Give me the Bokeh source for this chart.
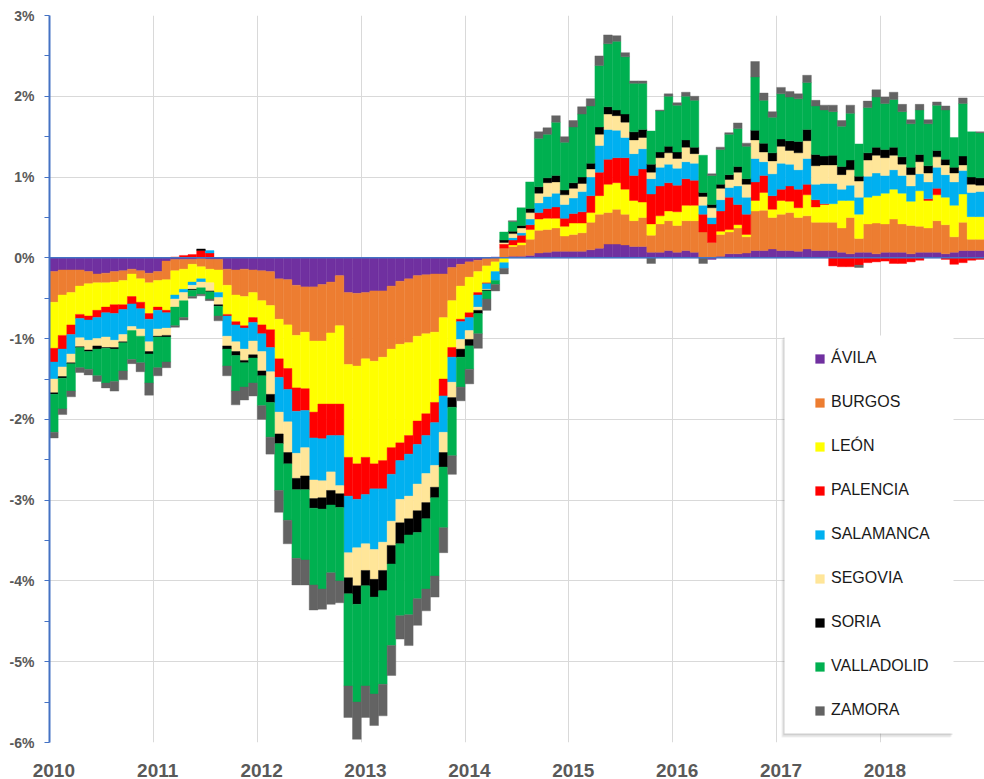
import numpy as np
from bokeh.plotting import figure
from bokeh.models import (ColumnDataSource, FixedTicker, PrintfTickFormatter, Span,
                          Legend, LegendItem, BoxAnnotation, Range1d)
from bokeh.embed import file_html
from bokeh.resources import INLINE

# ---------------- data (monthly contributions, %, Jan 2010 - Dec 2018) ----------------
year_labels = ["2010", "2011", "2012", "2013", "2014", "2015", "2016", "2017", "2018"]
provinces = ["ÁVILA", "BURGOS", "LEÓN", "PALENCIA", "SALAMANCA", "SEGOVIA", "SORIA", "VALLADOLID", "ZAMORA"]
colors = ["#7030A0", "#ED7D31", "#FFFF00", "#FF0000", "#00B0F0", "#FFE699", "#000000", "#00B050", "#636363"]

avila = [
    -0.17, -0.15, -0.15, -0.15, -0.17, -0.20, -0.19, -0.17, -0.16, -0.14, -0.16, -0.19,
    -0.17, -0.04, -0.02, -0.02, -0.02, -0.01, -0.02, -0.02, -0.14, -0.15, -0.14, -0.15,
    -0.16, -0.17, -0.26, -0.27, -0.34, -0.36, -0.36, -0.33, -0.30, -0.22, -0.43, -0.44,
    -0.43, -0.41, -0.41, -0.35, -0.29, -0.26, -0.22, -0.21, -0.20, -0.20, -0.12, -0.08,
    -0.05, -0.03, -0.01, 0.01, 0.01, 0.02, 0.02, 0.03, 0.06, 0.07, 0.08, 0.08,
    0.08, 0.08, 0.10, 0.12, 0.17, 0.17, 0.16, 0.14, 0.14, 0.07, 0.07, 0.09,
    0.07, 0.09, 0.07, 0.01, -0.02, 0.02, 0.05, 0.05, 0.06, 0.09, 0.09, 0.11,
    0.09, 0.09, 0.08, 0.11, 0.09, 0.09, 0.09, 0.07, 0.05, 0.07, 0.07, 0.05,
    0.07, 0.07, 0.07, 0.05, 0.07, 0.07, 0.07, 0.05, 0.07, 0.09, 0.09, 0.09]
burgos = [
    -0.38, -0.31, -0.28, -0.20, -0.15, -0.11, -0.12, -0.13, -0.12, -0.06, -0.10, -0.12,
    -0.11, -0.23, -0.14, -0.12, -0.06, -0.10, -0.12, -0.13, -0.20, -0.31, -0.34, -0.28,
    -0.37, -0.42, -0.50, -0.56, -0.62, -0.56, -0.67, -0.70, -0.63, -0.62, -0.89, -0.90,
    -0.82, -0.87, -0.82, -0.78, -0.78, -0.79, -0.75, -0.73, -0.72, -0.54, -0.41, -0.27,
    -0.19, -0.14, -0.09, -0.05, 0.11, 0.12, 0.14, 0.20, 0.28, 0.28, 0.29, 0.19,
    0.21, 0.23, 0.34, 0.42, 0.39, 0.43, 0.38, 0.32, 0.36, 0.21, 0.35, 0.37,
    0.33, 0.37, 0.39, 0.31, 0.19, 0.27, 0.27, 0.32, 0.20, 0.49, 0.50, 0.39,
    0.45, 0.47, 0.42, 0.41, 0.35, 0.35, 0.35, 0.30, 0.45, 0.17, 0.35, 0.38,
    0.35, 0.41, 0.35, 0.35, 0.32, 0.30, 0.39, 0.36, 0.19, 0.35, 0.14, 0.14]
leon = [
    -0.57, -0.50, -0.40, -0.35, -0.40, -0.34, -0.30, -0.28, -0.30, -0.28, -0.29, -0.38,
    -0.33, -0.38, -0.30, -0.25, -0.22, -0.15, -0.17, -0.28, -0.36, -0.33, -0.36, -0.31,
    -0.30, -0.30, -0.49, -0.54, -0.65, -0.70, -0.88, -0.78, -0.88, -0.97, -1.15, -1.21,
    -1.22, -1.27, -1.28, -1.22, -1.22, -1.15, -1.05, -0.99, -0.87, -0.76, -0.58, -0.41,
    -0.44, -0.26, -0.21, -0.12, -0.06, 0.02, 0.03, 0.12, 0.14, 0.14, 0.12, 0.12,
    0.14, 0.12, 0.12, 0.23, 0.35, 0.33, 0.31, 0.25, 0.19, 0.14, 0.10, 0.12,
    0.17, 0.19, 0.19, 0.00, 0.00, 0.04, 0.03, 0.04, 0.03, 0.13, 0.22, 0.10,
    0.17, 0.14, 0.12, 0.26, 0.19, 0.22, 0.23, 0.34, 0.21, 0.30, 0.33, 0.34,
    0.38, 0.37, 0.38, 0.30, 0.44, 0.34, 0.32, 0.34, 0.39, 0.35, 0.28, 0.28]
palencia = [
    -0.17, -0.17, -0.12, -0.05, -0.05, -0.09, -0.07, -0.11, -0.06, -0.09, -0.08, -0.07,
    -0.04, -0.03, 0.01, 0.03, 0.04, 0.09, 0.06, 0.00, -0.02, -0.04, -0.03, -0.06,
    -0.11, -0.22, -0.23, -0.26, -0.29, -0.27, -0.32, -0.43, -0.39, -0.39, -0.48, -0.44,
    -0.46, -0.31, -0.35, -0.33, -0.22, -0.23, -0.29, -0.27, -0.25, -0.21, -0.12, -0.03,
    -0.06, -0.03, -0.01, 0.00, 0.05, 0.06, 0.09, 0.06, 0.08, 0.12, 0.14, 0.10,
    0.12, 0.14, 0.21, 0.29, 0.31, 0.31, 0.39, 0.31, 0.41, 0.37, 0.37, 0.35,
    0.33, 0.33, 0.31, 0.22, 0.23, 0.25, 0.40, 0.25, 0.25, 0.23, 0.21, 0.17,
    0.14, 0.19, 0.23, 0.13, 0.09, 0.01, -0.10, -0.11, -0.11, -0.09, -0.06, -0.05,
    -0.04, -0.07, -0.07, -0.05, -0.03, 0.02, 0.08, -0.02, -0.08, -0.06, -0.03, -0.02]
salamanca = [
    -0.21, -0.22, -0.24, -0.24, -0.25, -0.26, -0.30, -0.33, -0.31, -0.28, -0.25, -0.28,
    -0.23, -0.19, -0.05, -0.04, -0.04, -0.04, 0.03, -0.06, -0.25, -0.21, -0.26, -0.23,
    -0.22, -0.30, -0.43, -0.40, -0.52, -0.46, -0.52, -0.52, -0.45, -0.62, -0.70, -0.60,
    -0.61, -0.75, -0.66, -0.58, -0.48, -0.52, -0.49, -0.47, -0.53, -0.45, -0.31, -0.22,
    -0.16, -0.15, -0.07, -0.11, -0.07, 0.03, 0.03, 0.07, 0.12, 0.15, 0.17, 0.17,
    0.19, 0.25, 0.23, 0.33, 0.37, 0.34, 0.25, 0.27, 0.25, 0.19, 0.23, 0.23,
    0.21, 0.21, 0.21, 0.11, 0.08, 0.14, 0.12, 0.23, 0.21, 0.29, 0.17, 0.27,
    0.32, 0.27, 0.24, 0.32, 0.19, 0.25, 0.25, 0.14, 0.19, 0.21, 0.26, 0.28,
    0.22, 0.24, 0.22, 0.19, 0.21, 0.21, 0.26, 0.28, 0.29, 0.29, 0.30, 0.31]
segovia = [
    -0.17, -0.12, -0.11, -0.11, -0.12, -0.09, -0.13, -0.09, -0.09, -0.05, -0.09, -0.12,
    -0.09, -0.09, -0.10, -0.10, -0.05, -0.07, -0.10, -0.09, -0.12, -0.12, -0.14, -0.17,
    -0.24, -0.28, -0.27, -0.38, -0.31, -0.35, -0.23, -0.21, -0.23, -0.10, -0.31, -0.47,
    -0.33, -0.37, -0.35, -0.30, -0.29, -0.28, -0.33, -0.36, -0.27, -0.25, -0.19, -0.12,
    -0.11, -0.04, -0.01, 0.00, 0.02, 0.05, 0.06, 0.08, 0.12, 0.17, 0.14, 0.12,
    0.12, 0.10, 0.10, 0.14, 0.19, 0.18, 0.19, 0.17, 0.14, 0.08, 0.12, 0.14,
    0.12, 0.18, 0.12, 0.11, 0.12, 0.14, 0.10, 0.17, 0.16, 0.23, 0.12, 0.16,
    0.21, 0.17, 0.21, 0.22, 0.23, 0.23, 0.23, 0.18, 0.19, 0.20, 0.20, 0.22,
    0.22, 0.18, 0.14, 0.14, 0.15, 0.11, 0.13, 0.12, 0.11, 0.07, 0.10, 0.08]
soria = [
    -0.02, -0.02, -0.01, -0.01, -0.02, -0.04, -0.01, -0.02, -0.01, 0.00, 0.00, -0.03,
    -0.01, -0.02, 0.00, 0.00, -0.01, 0.02, -0.01, -0.02, -0.04, -0.05, -0.03, -0.04,
    -0.06, -0.10, -0.12, -0.14, -0.14, -0.17, -0.12, -0.14, -0.18, -0.17, -0.20, -0.23,
    -0.19, -0.22, -0.25, -0.23, -0.26, -0.20, -0.27, -0.20, -0.13, -0.18, -0.12, -0.10,
    -0.08, -0.04, -0.01, 0.00, 0.03, 0.03, 0.03, 0.05, 0.08, 0.06, 0.08, 0.06,
    0.07, 0.08, 0.07, 0.09, 0.09, 0.07, 0.10, 0.10, 0.10, 0.10, 0.07, 0.08,
    0.08, 0.09, 0.08, 0.05, 0.04, 0.05, 0.06, 0.07, 0.07, 0.12, 0.11, 0.10,
    0.09, 0.12, 0.14, 0.14, 0.14, 0.11, 0.12, 0.10, 0.12, 0.06, 0.09, 0.10,
    0.10, 0.10, 0.09, 0.09, 0.09, 0.09, 0.08, 0.07, 0.07, 0.11, 0.09, 0.09]
valladolid = [
    -0.47, -0.38, -0.34, -0.25, -0.22, -0.33, -0.43, -0.40, -0.35, -0.36, -0.33, -0.36,
    -0.38, -0.31, -0.23, -0.21, -0.08, -0.08, -0.09, -0.12, -0.21, -0.44, -0.30, -0.31,
    -0.37, -0.43, -0.58, -0.70, -0.85, -0.87, -0.95, -0.99, -0.84, -0.91, -1.14, -1.21,
    -1.24, -1.20, -1.16, -1.01, -0.89, -0.99, -0.82, -0.87, -0.97, -0.75, -0.60, -0.37,
    -0.29, -0.25, -0.10, -0.05, 0.10, 0.12, 0.22, 0.33, 0.60, 0.54, 0.66, 0.59,
    0.69, 0.78, 0.71, 0.76, 0.78, 0.85, 0.71, 0.60, 0.57, 0.41, 0.51, 0.62,
    0.58, 0.54, 0.58, 0.46, 0.36, 0.43, 0.50, 0.47, 0.40, 0.66, 0.53, 0.44,
    0.56, 0.54, 0.53, 0.58, 0.60, 0.57, 0.54, 0.50, 0.58, 0.40, 0.56, 0.62,
    0.57, 0.59, 0.56, 0.54, 0.55, 0.52, 0.56, 0.61, 0.37, 0.65, 0.56, 0.56]
zamora = [
    -0.07, -0.07, -0.07, -0.06, -0.07, -0.07, -0.06, -0.12, -0.11, -0.05, -0.11, -0.15,
    -0.10, -0.07, -0.02, -0.03, -0.02, -0.02, -0.02, -0.06, -0.12, -0.17, -0.16, -0.16,
    -0.17, -0.21, -0.27, -0.29, -0.33, -0.31, -0.31, -0.25, -0.39, -0.27, -0.39, -0.46,
    -0.39, -0.39, -0.39, -0.37, -0.29, -0.38, -0.33, -0.27, -0.26, -0.31, -0.23, -0.17,
    -0.18, -0.18, -0.14, -0.08, -0.07, 0.01, 0.00, 0.00, 0.08, 0.08, 0.08, 0.07,
    0.08, 0.09, 0.09, 0.12, 0.11, 0.07, 0.05, 0.03, 0.03, -0.07, 0.01, 0.03,
    0.03, 0.05, 0.05, -0.07, 0.02, 0.03, 0.02, 0.07, 0.04, 0.19, 0.09, 0.07,
    0.08, 0.07, 0.06, 0.09, 0.07, 0.06, 0.08, 0.07, 0.10, -0.03, 0.08, 0.09,
    0.08, 0.09, 0.09, 0.05, 0.07, 0.05, 0.04, 0.05, 0.00, 0.07, 0.00, 0.01]

series = [avila, burgos, leon, palencia, salamanca, segovia, soria, valladolid, zamora]

# ---------------- figure ----------------
W, H = 984, 779
BL, BT, BB = 49, 15, 37
n = len(avila)

p = figure(width=W, height=H, output_backend="svg", toolbar_location=None,
           x_range=Range1d(0, n), y_range=Range1d(-6, 3),
           min_border_left=BL, min_border_right=0, min_border_top=BT, min_border_bottom=BB,
           background_fill_color="white", border_fill_color="white",
           outline_line_color=None)

# grids
p.xgrid.ticker = FixedTicker(ticks=[12 * k for k in range(1, len(year_labels) + 1)])
p.xgrid.grid_line_color = "#D9D9D9"
p.xgrid.grid_line_width = 1
p.ygrid.ticker = FixedTicker(ticks=list(range(-6, 4)))
p.ygrid.grid_line_color = "#D9D9D9"
p.ygrid.grid_line_width = 1

# stacked bars (positives stack upward, negatives downward, in series order)
x = np.arange(n) + 0.5
pos = np.zeros(n)
neg = np.zeros(n)
renderers = []
for name, vals, col in zip(provinces, series, colors):
    v = np.array(vals, dtype=float)
    bottom = np.where(v >= 0, pos, neg + v)
    top = np.where(v >= 0, pos + v, neg)
    pos = np.where(v >= 0, pos + v, pos)
    neg = np.where(v < 0, neg + v, neg)
    m = v != 0
    src = ColumnDataSource(dict(x=x[m], bottom=bottom[m], top=top[m]))
    r = p.vbar(x="x", width=1.0, bottom="bottom", top="top", source=src,
               fill_color=col, line_color=col, line_width=0.4)
    renderers.append(r)

# horizontal axis line at 0
p.add_layout(Span(location=0, dimension="width", line_color="#4472C4", line_width=1.5))

# x axis
xt = [12 * k + 0.5 for k in range(len(year_labels))]
p.xaxis.ticker = FixedTicker(ticks=xt)
p.xaxis.major_label_overrides = {t: lab for t, lab in zip(xt, year_labels)}
p.xaxis.axis_line_color = None
p.xaxis.major_tick_line_color = None
p.xaxis.minor_tick_line_color = None
p.xaxis.major_label_standoff = 15
p.xaxis.major_label_text_font = "Liberation Sans"
p.xaxis.major_label_text_font_style = "bold"
p.xaxis.major_label_text_font_size = "19px"
p.xaxis.major_label_text_color = "#595959"

# y axis
p.yaxis.ticker = FixedTicker(ticks=list(range(-6, 4)), minor_ticks=[k + 0.5 for k in range(-6, 3)])
p.yaxis.formatter = PrintfTickFormatter(format="%d%%")
p.yaxis.axis_line_color = "#4472C4"
p.yaxis.axis_line_width = 2
p.yaxis.major_tick_line_color = "#4472C4"
p.yaxis.minor_tick_line_color = "#4472C4"
p.yaxis.major_tick_out = 5
p.yaxis.major_tick_in = 0
p.yaxis.minor_tick_out = 5
p.yaxis.minor_tick_in = 0
p.yaxis.major_label_standoff = 10
p.yaxis.major_label_text_font = "Liberation Sans"
p.yaxis.major_label_text_font_style = "bold"
p.yaxis.major_label_text_font_size = "14px"
p.yaxis.major_label_text_color = "#595959"

# legend box (white with soft shadow)
frame_w = W - BL
frame_h = H - BT - BB
def px_x(px):   # pixels from frame left -> data x
    return px * n / frame_w
def px_y(py):   # pixels from frame top -> data y
    return 3 - py * 9 / frame_h

box_l, box_r, box_t, box_b = 735, 904, 320, 718   # frame-relative pixels
for dx, dy, a in [(-3, 4, 0.10), (-2, 3, 0.14), (-1, 1.5, 0.18)]:
    p.add_layout(BoxAnnotation(left=px_x(box_l + dx), right=px_x(box_r + dx),
                               top=px_y(box_t + dy), bottom=px_y(box_b + dy),
                               fill_color="#7F7F7F", fill_alpha=a, line_alpha=0))
p.add_layout(BoxAnnotation(left=px_x(box_l), right=px_x(box_r),
                           top=px_y(box_t), bottom=px_y(box_b),
                           fill_color="white", fill_alpha=1.0, line_alpha=0))

legend = Legend(items=[LegendItem(label=nm, renderers=[r]) for nm, r in zip(provinces, renderers)],
                location=(765, 23), orientation="vertical", padding=0, margin=0,
                spacing=26, label_height=18, glyph_height=11, glyph_width=11,
                label_standoff=6, label_text_font="Liberation Sans",
                label_text_font_size="16px", label_text_color="#1A1A1A",
                background_fill_alpha=0, border_line_color=None)
p.add_layout(legend)

open("out.html", "w").write(file_html(p, INLINE))
